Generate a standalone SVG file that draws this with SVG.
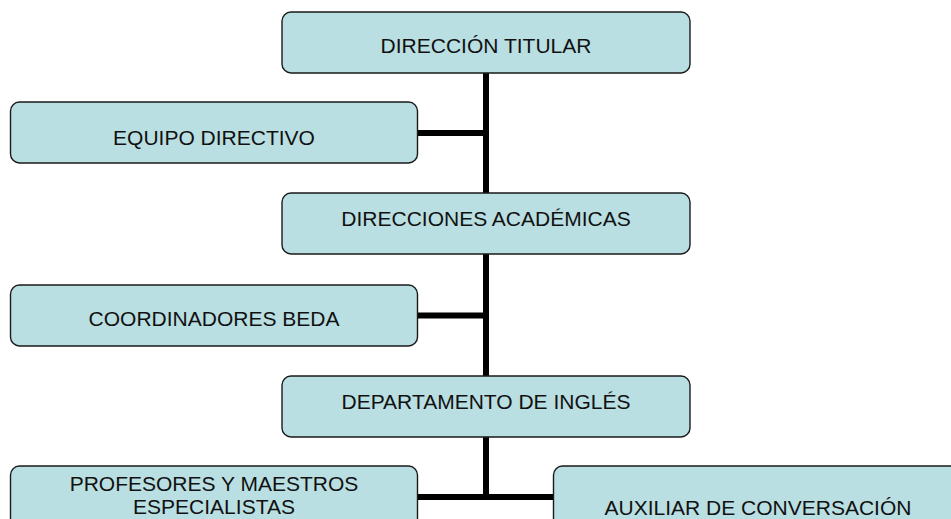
<svg xmlns="http://www.w3.org/2000/svg" width="951" height="519" viewBox="0 0 951 519">
<style>
.box{fill:#B9DFE2;stroke:#1a1a1a;stroke-width:1.4}
.lbl{font-family:"Liberation Sans",Arial,sans-serif;font-size:21px;fill:#111;text-anchor:middle}
.con{stroke:#000;stroke-width:6;fill:none}
</style>
<rect width="951" height="519" fill="#fff"/>
<g id="connectors">
<line class="con" x1="486" y1="73" x2="486" y2="500"/>
<line class="con" x1="418" y1="133" x2="486" y2="133"/>
<line class="con" x1="418" y1="315.5" x2="486" y2="315.5"/>
<line class="con" x1="418" y1="497" x2="554" y2="497"/>
</g>
<g id="n1"><rect class="box" x="282" y="12" width="408" height="61" rx="9"/><text class="lbl" x="486" y="53">DIRECCIÓN TITULAR</text></g>
<g id="n2"><rect class="box" x="10.5" y="102" width="407" height="61" rx="9"/><text class="lbl" x="214" y="145">EQUIPO DIRECTIVO</text></g>
<g id="n3"><rect class="box" x="282" y="193" width="408" height="61" rx="9"/><text class="lbl" x="486" y="226">DIRECCIONES ACADÉMICAS</text></g>
<g id="n4"><rect class="box" x="10.5" y="285" width="407" height="61" rx="9"/><text class="lbl" x="214" y="326">COORDINADORES BEDA</text></g>
<g id="n5"><rect class="box" x="282" y="376" width="408" height="61" rx="9"/><text class="lbl" x="486" y="409">DEPARTAMENTO DE INGLÉS</text></g>
<g id="n6"><rect class="box" x="10.5" y="466" width="407" height="70" rx="9"/><text class="lbl" x="214" y="491">PROFESORES Y MAESTROS</text><text class="lbl" x="214" y="514">ESPECIALISTAS</text></g>
<g id="n7"><rect class="box" x="553.5" y="466" width="408" height="70" rx="9"/><text class="lbl" x="758" y="515">AUXILIAR DE CONVERSACIÓN</text></g>
</svg>
